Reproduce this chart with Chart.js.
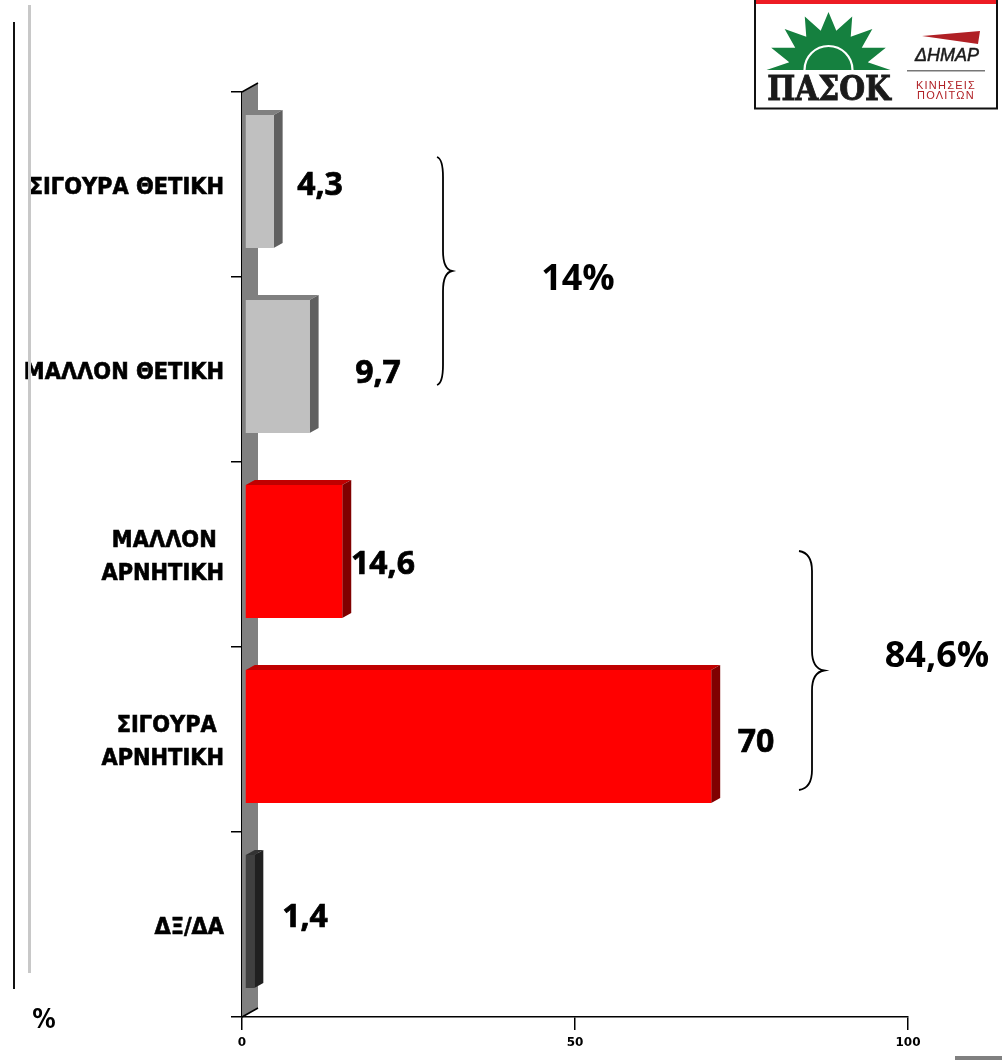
<!DOCTYPE html>
<html lang="el">
<head>
  <meta charset="UTF-8">
  <title>ΠΑΣΟΚ ΔΗΜΑΡ</title>
  <script src="https://cdn.jsdelivr.net/npm/chart.js"></script>
  <style>
    html, body { margin: 0; padding: 0; background: #fff; }
    canvas { display: block; }
  </style>
</head>
<body>
  <canvas id="chart" width="1002" height="1060"></canvas>

  <script>
    const categories = ["ΣΙΓΟΥΡΑ ΘΕΤΙΚΗ", "ΜΑΛΛΟΝ ΘΕΤΙΚΗ", ["ΜΑΛΛΟΝ ", "ΑΡΝΗΤΙΚΗ"], ["ΣΙΓΟΥΡΑ ", "ΑΡΝΗΤΙΚΗ"], "ΔΞ/ΔΑ"];
    const values = [4.3, 9.7, 14.6, 70, 1.4];
    const xTicks = [0, 50, 100];
    const groupLabels = ["14%", "84,6%"];

    const faceColors = ["#c0c0c0", "#c0c0c0", "#ff0000", "#ff0000", "#404040"];
    const sideColors = ["#606060", "#606060", "#800000", "#800000", "#202020"];
    const topColors = ["#808080", "#808080", "#c00000", "#c00000", "#333333"];

    // where the value labels sit, the original placed them by hand
    const valueLabelX = [320, 378, 383, 756, 305];
    const valueLabelY = [186, 374, 565, 743, 918];

    const depthX = 9, depthY = 5;
    const shiftX = 3, shiftY = -3;

    function drawBrace(ctx, x0, x1, x2, y0, y1) {
      // x0 tips, x1 spine, x2 point
      const mid = (y0 + y1) / 2;
      ctx.beginPath();
      ctx.moveTo(x0, y0);
      ctx.quadraticCurveTo(x1, y0 + 2, x1, y0 + 20);
      ctx.lineTo(x1, mid - 20);
      ctx.quadraticCurveTo(x1, mid - 2, x2, mid);
      ctx.quadraticCurveTo(x1, mid + 2, x1, mid + 20);
      ctx.lineTo(x1, y1 - 20);
      ctx.quadraticCurveTo(x1, y1 - 2, x0, y1);
      ctx.strokeStyle = "#000";
      ctx.lineWidth = 1.8;
      ctx.stroke();
    }

    function boldText(ctx, text, x, y, stroke) {
      ctx.lineWidth = stroke;
      ctx.strokeStyle = ctx.fillStyle;
      ctx.strokeText(text, x, y);
      ctx.fillText(text, x, y);
    }

    function drawLogo(ctx) {
      ctx.save();
      ctx.fillStyle = "#ed1c24";
      ctx.fillRect(755, 0, 243, 4);
      ctx.strokeStyle = "#111";
      ctx.lineWidth = 2;
      ctx.beginPath();
      ctx.moveTo(755, 0);
      ctx.lineTo(755, 108.5);
      ctx.lineTo(997, 108.5);
      ctx.lineTo(997, 0);
      ctx.stroke();

      // sun
      const cx = 828.5, cy = 70, rays = 8;
      ctx.fillStyle = "#15803f";
      ctx.beginPath();
      ctx.moveTo(cx - 62, cy);
      for (let i = 0; i <= rays; i++) {
        const a = Math.PI - Math.PI * i / rays;
        ctx.lineTo(cx + 62 * Math.cos(a), cy - 58 * Math.sin(a));
        if (i < rays) {
          const m = a - Math.PI / rays / 2;
          ctx.lineTo(cx + 40 * Math.cos(m), cy - 40 * Math.sin(m));
        }
      }
      ctx.closePath();
      ctx.fill();
      ctx.strokeStyle = "#fff";
      ctx.lineWidth = 2.2;
      ctx.beginPath();
      ctx.arc(cx, cy, 24, Math.PI, 0);
      ctx.stroke();

      ctx.textBaseline = "alphabetic";
      ctx.textAlign = "center";
      ctx.fillStyle = "#1a1a1a";
      ctx.font = "bold 33px 'DejaVu Serif Condensed', 'DejaVu Serif'";
      boldText(ctx, "ΠΑΣΟΚ", 829, 100, 0.8);

      ctx.fillStyle = "#b02025";
      ctx.beginPath();
      ctx.moveTo(922, 36);
      ctx.lineTo(980, 31);
      ctx.lineTo(978, 44);
      ctx.closePath();
      ctx.fill();

      ctx.fillStyle = "#1a1a1a";
      ctx.font = "italic 18px 'Liberation Sans'";
      boldText(ctx, "ΔΗΜΑΡ", 947, 61, 0.5);

      ctx.fillStyle = "#777";
      ctx.fillRect(907, 70, 78, 1.5);

      ctx.fillStyle = "#b02025";
      ctx.font = "11px 'Liberation Sans'";
      ctx.letterSpacing = "1.2px";
      ctx.fillText("ΚΙΝΗΣΕΙΣ", 946, 89);
      ctx.fillText("ΠΟΛΙΤΩΝ", 946, 99);
      ctx.restore();
    }

    const depthPlugin = {
      id: "depth",
      afterLayout(chart) {
        // the category text sits a little under the band centre
        chart.scales.y.getLabelItems().forEach(item => { item.options.translation[1] += 3; });
      },
      beforeDatasetsDraw(chart) {
        const ctx = chart.ctx;
        const area = chart.chartArea;
        const meta = chart.getDatasetMeta(0);

        // back wall
        ctx.save();
        ctx.fillStyle = "#808080";
        ctx.beginPath();
        ctx.moveTo(area.left + 1, area.top);
        ctx.lineTo(area.left + 16, area.top - 9);
        ctx.lineTo(area.left + 16, area.bottom - 9);
        ctx.lineTo(area.left + 1, area.bottom);
        ctx.closePath();
        ctx.fill();
        ctx.strokeStyle = "#000";
        ctx.lineWidth = 1.5;
        ctx.beginPath();
        ctx.moveTo(area.left, area.top);
        ctx.lineTo(area.left + 16, area.top - 9);
        ctx.moveTo(area.left, area.bottom);
        ctx.lineTo(area.left + 16, area.bottom - 9);
        ctx.stroke();

        // top and side of each bar
        meta.data.forEach((bar, i) => {
          const x0 = bar.base + shiftX;
          const x1 = bar.x + shiftX;
          const y0 = bar.y - bar.height / 2 + shiftY;
          const y1 = bar.y + bar.height / 2 + shiftY;
          ctx.fillStyle = topColors[i];
          ctx.beginPath();
          ctx.moveTo(x0, y0);
          ctx.lineTo(x0 + depthX, y0 - depthY);
          ctx.lineTo(x1 + depthX, y0 - depthY);
          ctx.lineTo(x1, y0);
          ctx.closePath();
          ctx.fill();
          ctx.fillStyle = sideColors[i];
          ctx.beginPath();
          ctx.moveTo(x1, y0);
          ctx.lineTo(x1 + depthX, y0 - depthY);
          ctx.lineTo(x1 + depthX, y1 - depthY);
          ctx.lineTo(x1, y1);
          ctx.closePath();
          ctx.fill();
        });
        ctx.restore();

        ctx.save();
        ctx.translate(shiftX, shiftY);
      },
      afterDatasetsDraw(chart) {
        chart.ctx.restore();
      },
      afterDraw(chart) {
        const ctx = chart.ctx;
        ctx.save();

        // page rules on the left and corner mark
        ctx.fillStyle = "#111";
        ctx.fillRect(13, 22, 2, 967);
        ctx.fillStyle = "#c8c8c8";
        ctx.fillRect(28, 5, 3, 968);
        ctx.fillStyle = "#808080";
        ctx.fillRect(955, 1056, 47, 4);

        ctx.fillStyle = "#000";
        ctx.textAlign = "center";
        ctx.textBaseline = "middle";
        ctx.font = "bold 32px 'Open Sans'";
        values.forEach((v, i) => {
          boldText(ctx, String(v).replace(".", ","), valueLabelX[i], valueLabelY[i], 0.7);
        });
        ctx.font = "bold 36px 'Open Sans'";
        ctx.fillText(groupLabels[0], 578, 280);
        ctx.fillText(groupLabels[1], 937, 657);

        ctx.font = "bold 26px 'DejaVu Sans Condensed', 'DejaVu Sans'";
        ctx.fillText("%", 44, 1021);

        drawBrace(ctx, 437, 443, 452, 157, 385);
        drawBrace(ctx, 799, 812, 824, 551, 790);
        ctx.restore();

        drawLogo(ctx);
      }
    };

    new Chart(document.getElementById("chart").getContext("2d"), {
      type: "bar",
      data: {
        labels: categories,
        datasets: [{
          data: values,
          backgroundColor: faceColors,
          borderWidth: 0,
          categoryPercentage: 1,
          barPercentage: 0.72
        }]
      },
      plugins: [depthPlugin],
      options: {
        indexAxis: "y",
        responsive: false,
        animation: false,
        devicePixelRatio: 1,
        layout: { padding: { top: 92, right: 94, left: 0, bottom: 0 } },
        plugins: { legend: { display: false }, tooltip: { enabled: false } },
        scales: {
          x: {
            min: 0,
            max: 100,
            afterBuildTicks: scale => { scale.ticks = xTicks.map(value => ({ value })); },
            afterFit: scale => { scale.height = 43; },
            border: { color: "#000", width: 1.5 },
            grid: { drawOnChartArea: false, color: "#000", tickLength: 13, lineWidth: 1.5 },
            ticks: {
              color: "#000",
              padding: 6,
              maxRotation: 0,
              font: { family: "'DejaVu Sans'", size: 12, weight: "bold" }
            }
          },
          y: {
            afterFit: scale => { scale.width = 242; },
            border: { color: "#000", width: 1.5 },
            grid: { drawOnChartArea: false, color: "#000", tickLength: 11, lineWidth: 1.5 },
            ticks: {
              color: "#000",
              padding: 7,
              autoSkip: false,
              textStrokeColor: "#000",
              textStrokeWidth: 0.6,
              font: { family: "'DejaVu Sans Condensed', 'DejaVu Sans'", size: 23.3, weight: "bold", lineHeight: 1.42 }
            }
          }
        }
      }
    });
  </script>
</body>
</html>
